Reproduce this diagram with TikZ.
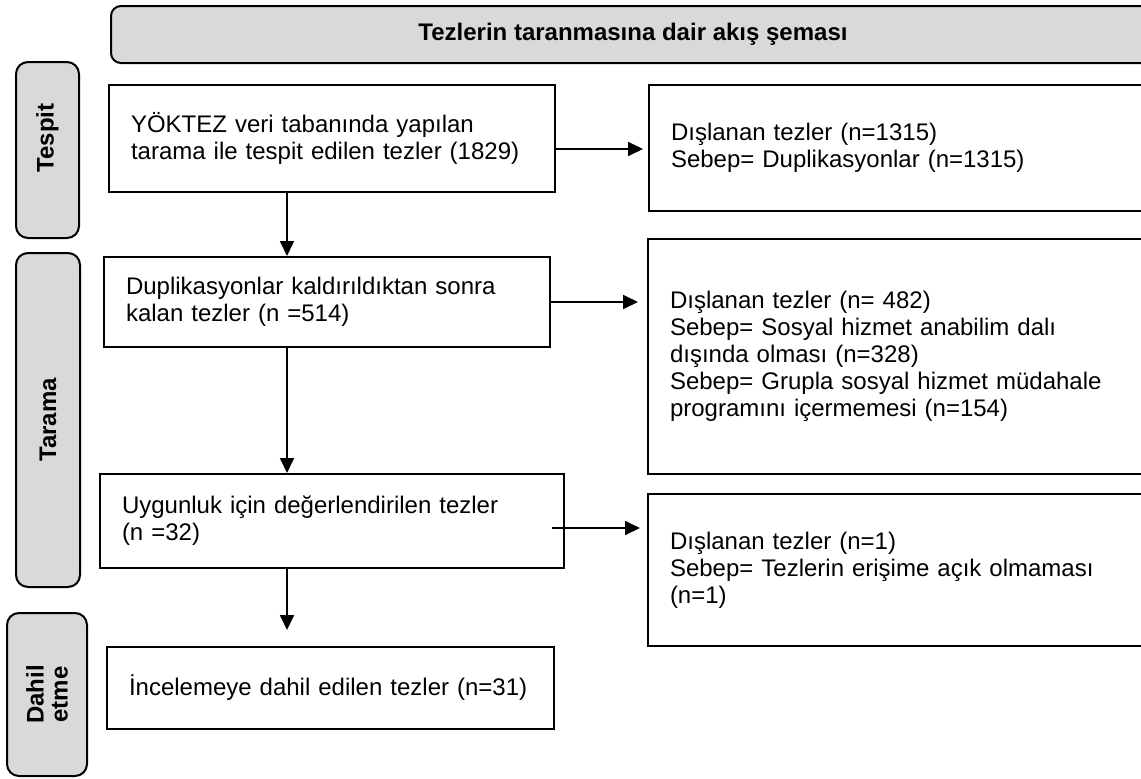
\documentclass[tikz,border=0pt]{standalone}
\usepackage{fontspec}
\setmainfont{Liberation Sans}
\usepackage{tikz}
\usetikzlibrary{arrows.meta,positioning}
\definecolor{gri}{HTML}{D9D9D9}
\tikzstyle{kutu}=[draw, line width=1pt, anchor=north west, align=left, inner xsep=11pt, font=\fontsize{12pt}{13.5pt}\selectfont]
\tikzstyle{etiket}=[draw, line width=1pt, fill=gri, rounded corners=6pt, rotate=90, align=center, inner sep=0pt, font=\bfseries\fontsize{12pt}{12pt}\selectfont]
\tikzstyle{ok}=[-{Triangle[length=7.5pt,width=7pt]}, line width=0.9pt]

\begin{document}
\begin{tikzpicture}[x=0.5pt, y=-0.5pt]
\useasboundingbox (0,0) rectangle (1141,778);
\clip (0,0) rectangle (1141,778);
\node[draw, line width=1pt, fill=gri, rounded corners=5pt, anchor=north west, minimum width=522pt, minimum height=28.5pt, font=\bfseries\fontsize{12pt}{14pt}\selectfont] (baslik) at (110,5) {Tezlerin taranmasına dair akış şeması};
% asama etiketleri
\node[etiket, minimum width=88pt, minimum height=31.5pt] (tespit) at (47.5,150) {\hspace*{12pt}Tespit};
\node[etiket, minimum width=167pt, minimum height=32pt] (tarama) at (48,420) {Tarama};
\node[etiket, minimum width=81.5pt, minimum height=40pt] (dahil) at (47,694.5) {Dahil\\etme};
% ana kutular
\node[kutu, minimum width=223pt, text width=201pt, minimum height=53.5pt] (yok) at (108,84) {YÖKTEZ veri tabanında yapılan\\tarama ile tespit edilen tezler (1829)};
\node[kutu, minimum width=223pt, text width=201pt, minimum height=45pt] (dup) at (103,256) {Duplikasyonlar kaldırıldıktan sonra\\kalan tezler (n =514)};
\node[kutu, minimum width=232pt, text width=210pt, minimum height=47pt] (uyg) at (99,473) {Uygunluk için değerlendirilen tezler\\(n =32)};
\node[kutu, minimum width=223.5pt, text width=201.5pt, minimum height=41pt] (inc) at (106,646) {İncelemeye dahil edilen tezler (n=31)};
% dislanan tezler
\node[kutu, minimum width=256pt, text width=234pt, minimum height=63pt] (dis1) at (648,84) {Dışlanan tezler (n=1315)\\Sebep= Duplikasyonlar (n=1315)};
\node[kutu, minimum width=256pt, text width=234pt, minimum height=117.5pt] (dis2) at (647,238) {Dışlanan tezler (n= 482)\\Sebep= Sosyal hizmet anabilim dalı\\dışında olması (n=328)\\Sebep= Grupla sosyal hizmet müdahale\\programını içermemesi (n=154)};
\node[kutu, minimum width=256pt, text width=234pt, minimum height=76pt] (dis3) at (647,493) {Dışlanan tezler (n=1)\\Sebep= Tezlerin erişime açık olmaması\\(n=1)};
\coordinate (ax) at (287,0);
\draw[ok] (yok.south -| ax) -- (dup.north -| ax);
\draw[ok] (dup.south -| ax) -- (uyg.north -| ax);
\draw[ok, shorten >=8pt] (uyg.south -| ax) -- (inc.north -| ax);
\draw[ok, shorten >=2.5pt] ([yshift=-5.25pt]yok.east) -- ([yshift=-5.25pt]yok.east -| dis1.west);
\draw[ok, shorten >=4.5pt] (dup.east) -- (dup.east -| dis2.west);
\draw[ok, shorten <=-6.5pt, shorten >=3.5pt] ([yshift=-3.5pt]uyg.east) -- ([yshift=-3.5pt]uyg.east -| dis3.west);
\end{tikzpicture}
\end{document}
